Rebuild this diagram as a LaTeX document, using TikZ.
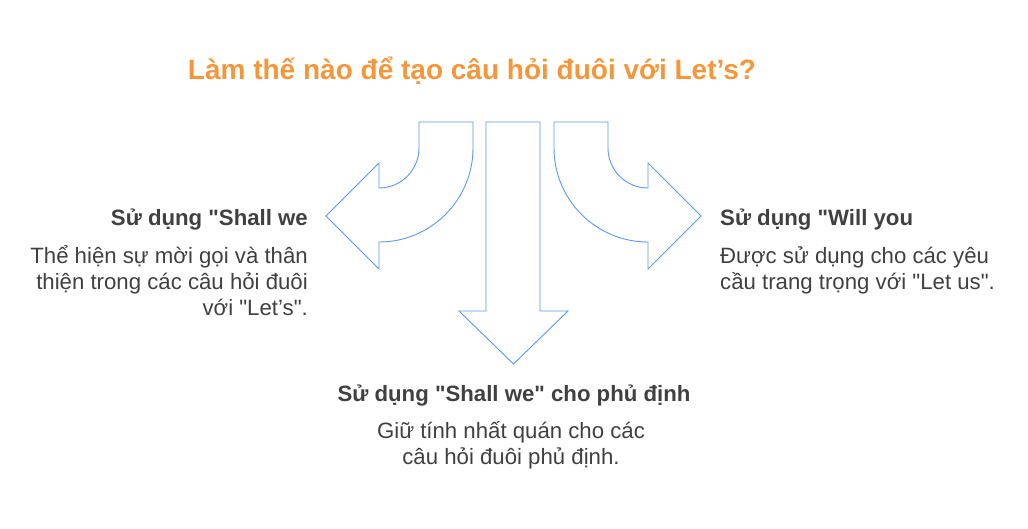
\documentclass[tikz,border=0pt]{standalone}
\usepackage{fontspec}
\setmainfont{Liberation Sans}[Ligatures=TeXOff]
\usetikzlibrary{positioning}
\definecolor{arrowblue}{RGB}{88,152,246}
\definecolor{titleorange}{RGB}{245,150,58}
\definecolor{textgray}{RGB}{64,64,64}
\tikzset{
  bigarrow/.style={draw=arrowblue, line width=0.9pt, line join=miter, fill=white},
  title/.style={inner sep=0pt, text=titleorange, font=\fontsize{28}{31}\selectfont\bfseries},
  head/.style={inner sep=0pt, text=textgray, font=\fontsize{22.2}{25}\selectfont\bfseries},
  body/.style={inner sep=0pt, text=textgray, font=\fontsize{22.2}{25.6}\selectfont}
}

\begin{document}
\begin{tikzpicture}[x=1pt,y=-1pt]
  \useasboundingbox (0,0) rectangle (1028,528);
  \draw[bigarrow] (419,122) -- (473,122) -- (473,148)
    .. controls (473,199.9) and (430.9,242) .. (379,242)
    -- (379,269) -- (326,216) -- (379,163) -- (379,188)
    .. controls (401.1,188) and (419,170.1) .. (419,148) -- cycle;
  \draw[bigarrow] (486,122) -- (540,122) -- (540,311) -- (568,311)
    -- (513.5,364) -- (459,311) -- (486,311) -- cycle;
  \draw[bigarrow] (608,122) -- (554,122) -- (554,148)
    .. controls (554,199.9) and (596.1,242) .. (648,242)
    -- (648,269) -- (701,216) -- (648,163) -- (648,188)
    .. controls (625.9,188) and (608,170.1) .. (608,148) -- cycle;
  \node[title, anchor=base] (ttl) at (472,79) {Làm thế nào để tạo câu hỏi đuôi với Let’s?};
  \node[head, anchor=base east] (lhead) at (308,225) {Sử dụng "Shall we};
  \node[body, anchor=base east, align=right] (lbody) at (308,315)
    {Thể hiện sự mời gọi và thân\\thiện trong các câu hỏi đuôi\\với "Let’s".};
  \node[head, anchor=base west] (rhead) at (720,225) {Sử dụng "Will you};
  \node[body, anchor=base west, align=left] (rbody) at (720,289)
    {Được sử dụng cho các yêu\\cầu trang trọng với "Let us".};
  \node[head, anchor=base] (bhead) at (514,401) {Sử dụng "Shall we" cho phủ định};
  \node[body, anchor=base, align=center] (bbody) at (511,464)
    {Giữ tính nhất quán cho các\\câu hỏi đuôi phủ định.};
\end{tikzpicture}
\end{document}
